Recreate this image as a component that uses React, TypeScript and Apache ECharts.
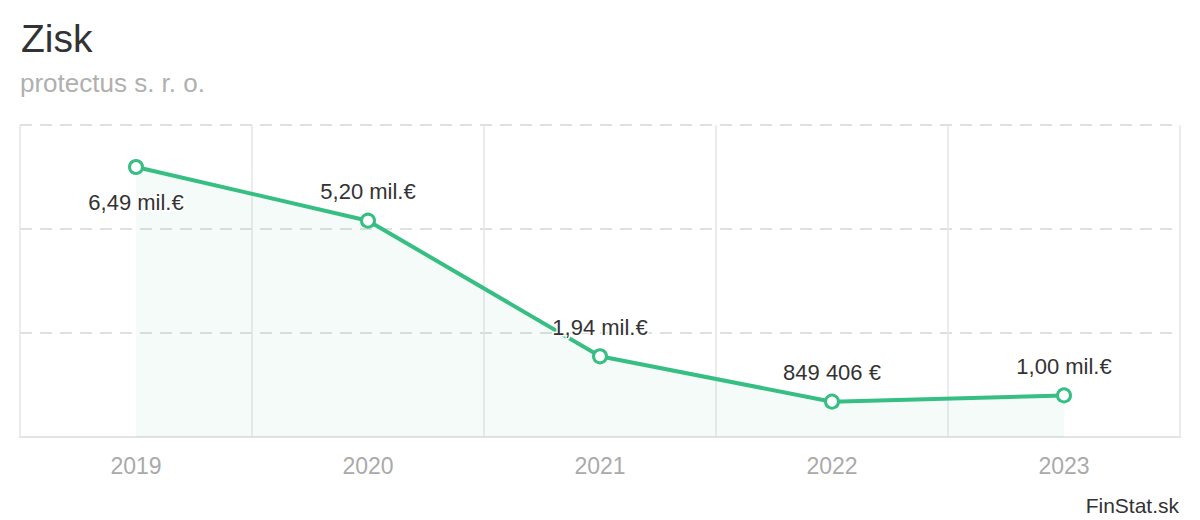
import React, { useEffect, useRef } from "react";
import * as echarts from "echarts";

const years = ["2019", "2020", "2021", "2022", "2023"];
const profit = [6490000, 5200000, 1940000, 849406, 1000000];
const profitLabels = ["6,49 mil.€", "5,20 mil.€", "1,94 mil.€", "849 406 €", "1,00 mil.€"];
const labelPlaces = ["bottom", "top", "top", "top", "top"];

const FONT = "'Liberation Sans', Arial, sans-serif";
const GREEN = "#37bf83";

export default function App() {
  const ref = useRef<HTMLDivElement>(null);
  useEffect(() => {
    document.body.style.margin = "0";
    const chart = echarts.init(ref.current!, null, { renderer: "svg" });
    chart.setOption({
      animation: false,
      backgroundColor: "#ffffff",
      textStyle: { fontFamily: FONT },
      title: [
        {
          text: "Zisk",
          left: 16,
          top: 14,
          textStyle: { fontFamily: FONT, fontSize: 39, fontWeight: "normal", color: "#333333" },
        },
        {
          text: "protectus s. r. o.",
          left: 15,
          top: 65,
          textStyle: { fontFamily: FONT, fontSize: 26, fontWeight: "normal", color: "#b0b0b0" },
        },
        {
          text: "FinStat.sk",
          right: 16,
          top: 490,
          textStyle: { fontFamily: FONT, fontSize: 21, fontWeight: "normal", color: "#333333" },
        },
      ],
      grid: { left: 20, right: 20, top: 125, bottom: 83 },
      xAxis: {
        type: "category",
        data: years,
        boundaryGap: true,
        axisLine: { show: true, lineStyle: { color: "#e3e3e3", width: 2 } },
        axisTick: { show: false },
        axisLabel: { fontFamily: FONT, fontSize: 23, color: "#aaaaaa", margin: 17 },
        splitLine: { show: true, lineStyle: { color: "#e6e6e6", width: 1.5, type: "solid" } },
      },
      yAxis: {
        type: "value",
        min: 0,
        max: 7500000,
        interval: 2500000,
        axisLabel: { show: false },
        axisLine: { show: false },
        axisTick: { show: false },
        splitLine: { show: true, lineStyle: { color: "#e0e0e0", width: 2, type: [12, 8] } },
      },
      series: [
        {
          type: "line",
          data: profit.map((v, i) => ({
            value: v,
            label: {
              position: labelPlaces[i],
              distance: labelPlaces[i] === "bottom" ? 16 : 10,
            },
          })),
          symbol: "circle",
          symbolSize: 13,
          showAllSymbol: true,
          itemStyle: { color: "#ffffff", borderColor: GREEN, borderWidth: 3 },
          lineStyle: { color: GREEN, width: 4 },
          areaStyle: { color: "rgba(55,191,131,0.08)" },
          label: {
            show: true,
            fontFamily: FONT,
            fontSize: 22,
            color: "#333333",
            textBorderColor: "#ffffff",
            textBorderWidth: 3,
            formatter: (p: any) => profitLabels[p.dataIndex],
          },
          emphasis: { disabled: true },
        },
      ],
    });
    return () => chart.dispose();
  }, []);
  return <div ref={ref} style={{ width: 1200, height: 520 }} />;
}
